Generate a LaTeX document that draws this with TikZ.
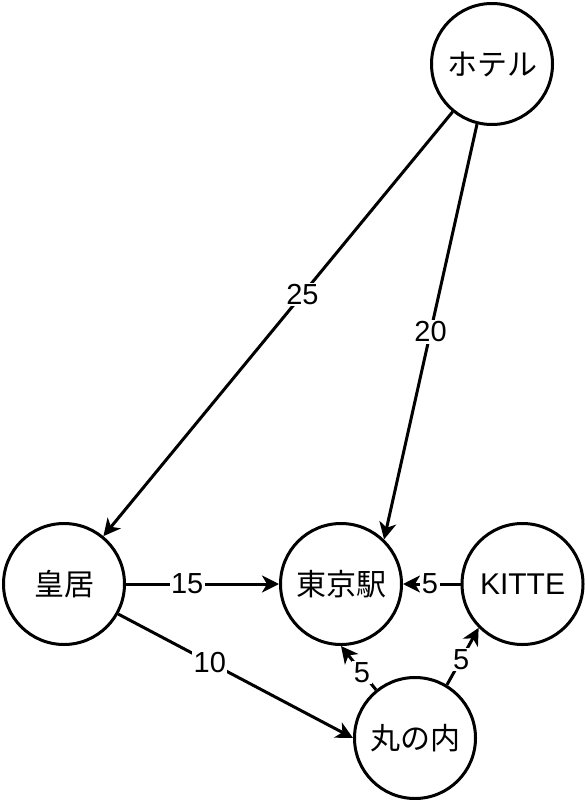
\documentclass[tikz,border=0pt]{standalone}
\usepackage{fontspec}
\setmainfont{Liberation Sans}
\newfontfamily\jp{Noto Sans CJK JP}
\usetikzlibrary{arrows.meta}
\begin{document}
\begin{tikzpicture}[x=1pt,y=-1pt,
  place/.style={circle,draw,line width=3pt,minimum size=121pt,inner sep=0pt,font=\fontsize{30}{32}\selectfont},
  edge/.style={line width=3pt,-{Stealth[length=17pt,width=17pt,inset=5pt]}},
  lbl/.style={fill=white,inner sep=1.5pt,font=\fontsize{29}{31}\selectfont}]
\useasboundingbox (0,0) rectangle (585,800);
\node[place] (hotel) at (492,64) {\jp ホテル};
\node[place] (kokyo) at (64,584) {\jp 皇居};
\node[place] (tokyo) at (341,584) {\jp 東京駅};
\node[place] (kitte) at (522.5,584) {KITTE};
\node[place] (maru) at (415,738) {\jp 丸の内};
\draw[edge] (hotel) -- node[lbl,pos=0.43] {25} (kokyo);
\draw[edge] (hotel.256) -- node[lbl,pos=0.5] {20} (tokyo.46);
\draw[edge] (kokyo.east) -- node[lbl,pos=0.4] {15} (tokyo.west);
\draw[edge] (kokyo.331) -- node[lbl,pos=0.39] {10} (maru.west);
\draw[edge] (kitte.west) -- node[lbl,pos=0.53] {5} (tokyo.east);
\draw[edge] (maru.129) -- node[lbl,pos=0.4] {5} (tokyo.270);
\draw[edge] (maru.59) -- node[lbl,pos=0.45] {5} (kitte.225);
\end{tikzpicture}
\end{document}
